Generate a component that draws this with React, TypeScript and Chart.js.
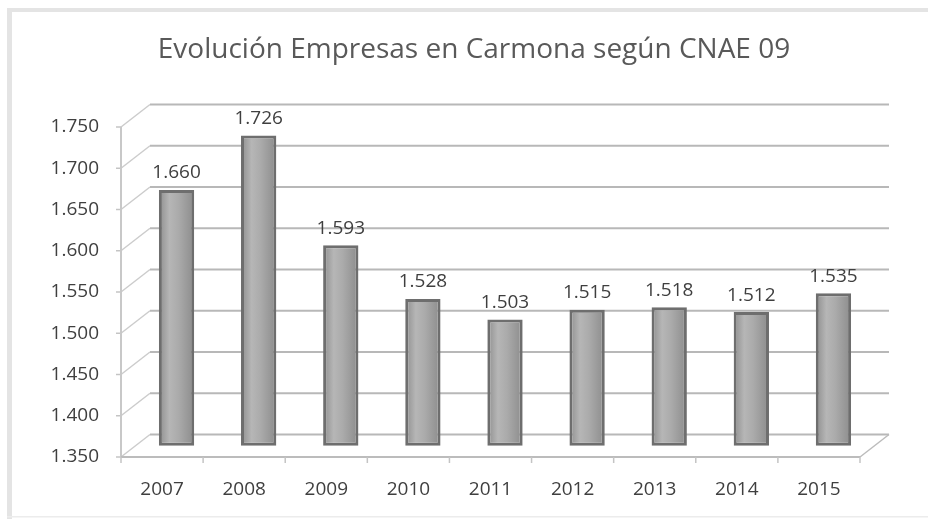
import React, { useEffect, useRef } from 'react';
import { Chart, registerables } from 'chart.js';

Chart.register(...registerables);

const categories = ['2007', '2008', '2009', '2010', '2011', '2012', '2013', '2014', '2015'];
const empresas = [1660, 1726, 1593, 1528, 1503, 1515, 1518, 1512, 1535];
const yMin = 1350;
const yMax = 1750;
const yStep = 50;
const titleText = 'Evolución Empresas en Carmona según CNAE 09';

const fmt = (v: number) => String(Math.round(v)).replace(/\B(?=(\d{3})+(?!\d))/g, '.');

const DX = 29;
const DY = -22.5;
const FONT = "'Open Sans', 'Noto Sans', sans-serif";

const depthPlugin = {
  id: 'depth3d',
  beforeDraw(chart: any) {
    const { ctx, width, height } = chart;
    ctx.save();
    ctx.fillStyle = '#ffffff';
    ctx.fillRect(0, 0, width, height);
    ctx.fillStyle = '#e4e4e4';
    ctx.fillRect(7, 8, 5, height - 8);
    ctx.fillRect(7, 8, width - 7, 4);
    ctx.fillStyle = '#ececec';
    ctx.fillRect(7, height - 3, width - 7, 1.5);
    ctx.font = `28px ${FONT}`;
    ctx.fillStyle = '#595959';
    ctx.textAlign = 'center';
    ctx.textBaseline = 'middle';
    ctx.fillText(titleText, 474, 50);
    ctx.restore();
  },
  beforeDatasetsDraw(chart: any) {
    const { ctx, chartArea, scales } = chart;
    const { left, right, top, bottom } = chartArea;
    const y = scales.y;
    const line = (x1: number, y1: number, x2: number, y2: number) => {
      ctx.beginPath();
      ctx.moveTo(x1, y1);
      ctx.lineTo(x2, y2);
      ctx.stroke();
    };
    ctx.save();
    y.ticks.forEach((t: any) => {
      const py = y.getPixelForValue(t.value);
      ctx.strokeStyle = '#cccccc';
      ctx.lineWidth = 1.5;
      line(left, py, left + DX, py + DY);
      ctx.strokeStyle = '#b8b8b8';
      ctx.lineWidth = 2;
      line(left + DX, py + DY, right + DX, py + DY);
      ctx.strokeStyle = '#c4c4c4';
      ctx.lineWidth = 1.5;
      line(left - 5, py, left, py);
    });
    ctx.strokeStyle = '#c8c8c8';
    ctx.lineWidth = 2;
    line(left, top, left, bottom);
    ctx.strokeStyle = '#bcbcbc';
    line(left, bottom, right, bottom);
    ctx.lineWidth = 1.5;
    line(right, bottom, right + DX, bottom + DY);
    const n = categories.length;
    ctx.strokeStyle = '#c4c4c4';
    for (let i = 0; i <= n; i++) {
      const bx = left + ((right - left) * i) / n;
      line(bx, bottom, bx, bottom + 6);
    }
    ctx.restore();
    ctx.save();
    ctx.translate(DX / 2, DY / 2);
  },
  afterDatasetsDraw(chart: any) {
    const { ctx } = chart;
    ctx.restore();
    const meta = chart.getDatasetMeta(0);
    ctx.save();
    ctx.font = `19px ${FONT}`;
    ctx.fillStyle = '#3f3f3f';
    ctx.textAlign = 'center';
    ctx.textBaseline = 'middle';
    meta.data.forEach((el: any, i: number) => {
      ctx.fillText(fmt(empresas[i]), el.x + DX / 2, el.y + DY / 2 - 17);
    });
    ctx.restore();
  },
};

export default function App() {
  const ref = useRef<HTMLCanvasElement | null>(null);
  useEffect(() => {
    document.body.style.margin = '0';
    const canvas = ref.current;
    if (!canvas) return;
    const barPct = 0.43;
    const chart = new Chart(canvas, {
      type: 'bar',
      data: {
        labels: categories,
        datasets: [
          {
            data: empresas,
            base: yMin,
            clip: false as any,
            backgroundColor: (c: any) => {
              const ch = c.chart;
              const xs = ch.scales?.x;
              if (!xs || c.dataIndex === undefined) return '#a6a6a6';
              const cx = xs.getPixelForValue(c.dataIndex);
              const w = (xs.width / categories.length) * barPct;
              if (!Number.isFinite(cx) || !Number.isFinite(w) || w <= 0) return '#a6a6a6';
              const g = ch.ctx.createLinearGradient(cx - w / 2, 0, cx + w / 2, 0);
              g.addColorStop(0, '#8e8e8e');
              g.addColorStop(0.3, '#b6b6b6');
              g.addColorStop(0.55, '#ababab');
              g.addColorStop(1, '#8c8c8c');
              return g;
            },
            borderColor: '#6e6e6e',
            borderWidth: 3,
            borderSkipped: false,
            barPercentage: barPct,
            categoryPercentage: 1,
          } as any,
        ],
      },
      options: {
        responsive: false,
        animation: false,
        layout: { padding: { left: 0, right: 68, top: 127, bottom: 0 } },
        plugins: {
          legend: { display: false },
          tooltip: { enabled: false },
          title: { display: false },
        },
        scales: {
          x: {
            offset: true,
            grid: { display: false },
            border: { display: false },
            ticks: {
              color: '#3f3f3f',
              font: { family: FONT, size: 19 },
              padding: 13,
              maxRotation: 0,
            },
            afterFit: (s: any) => {
              s.height = 62;
            },
          },
          y: {
            min: yMin,
            max: yMax,
            grid: { display: false },
            border: { display: false },
            ticks: {
              stepSize: yStep,
              color: '#3f3f3f',
              font: { family: FONT, size: 19 },
              padding: 14,
              callback: (v: any) => fmt(Number(v)),
            },
            afterFit: (s: any) => {
              s.width = 121;
            },
          },
        },
      },
      plugins: [depthPlugin],
    });
    return () => chart.destroy();
  }, []);
  return <canvas ref={ref} width={928} height={519} style={{ display: 'block' }} />;
}
